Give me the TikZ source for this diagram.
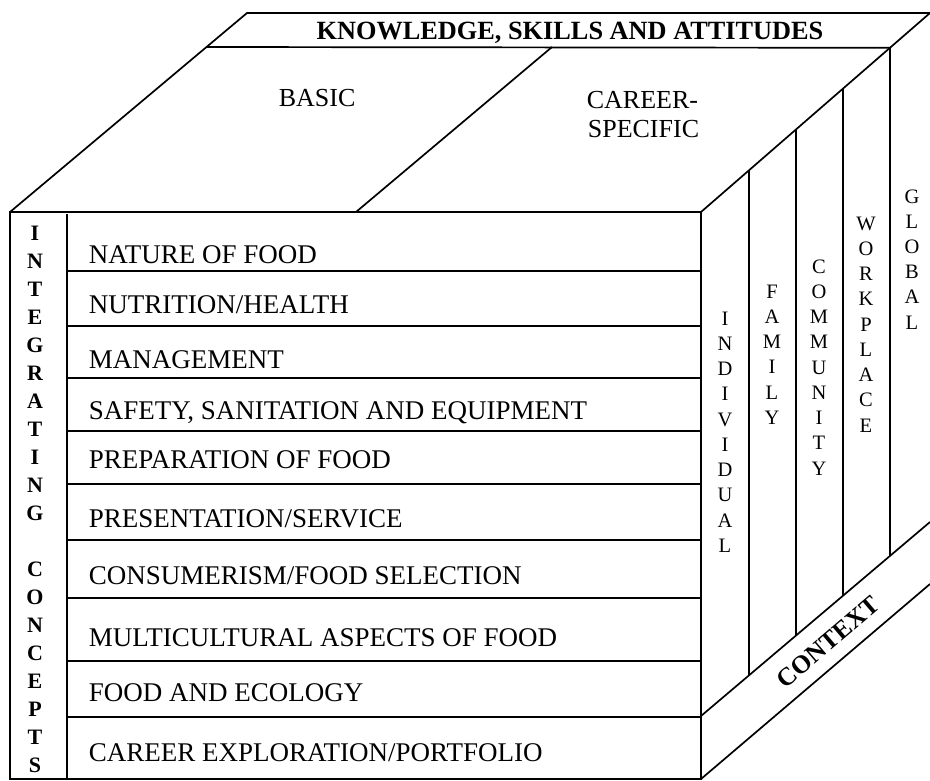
\documentclass[tikz,border=0pt]{standalone}
\usepackage{fontspec}
\setmainfont{Liberation Serif}
\begin{document}
\begin{tikzpicture}[x=1pt,y=-1pt,line width=1.7pt,line join=miter,
  rowlbl/.style={inner sep=0pt,anchor=base west,font=\fontsize{27}{30}\selectfont},
  toplbl/.style={inner sep=0pt,anchor=base west,font=\fontsize{26}{30}\selectfont},
  titlelbl/.style={inner sep=0pt,anchor=base,font=\bfseries\fontsize{26.3}{30}\selectfont},
  icl/.style={inner sep=0pt,anchor=base,font=\bfseries\fontsize{22}{26}\selectfont},
  ctxl/.style={inner sep=0pt,anchor=base,font=\fontsize{20.5}{24}\selectfont},
  ctxword/.style={inner sep=0pt,font=\bfseries\fontsize{25.5}{28}\selectfont,rotate=40.4}]
\useasboundingbox (0,0) rectangle (930,780);

% front face
\draw (10,212) rectangle (701,779);
\draw (67,214) -- (67,779);
\foreach \y in {271,326,378,431,484,540,598,661,717}
  \draw (67,\y) -- (701,\y);

% top face
\draw (10,212) -- (247,13) -- (930,13);
\draw (207,47) -- (890,47.8);
\draw (701,212) -- (930,13);
\draw (356,212) -- (552,47);

% right face columns
\draw (749,170.3) -- (749,675.3);
\draw (796,129.4) -- (796,635.5);
\draw (843,88.6) -- (843,595.7);
\draw (890,47.8) -- (890,555.9);

% context band
\draw (701,716) -- (930,522);
\draw (701,779) -- (930,584);

% texts
\node[titlelbl] (title) at (570,39) {KNOWLEDGE, SKILLS AND ATTITUDES};
\node[toplbl] (basic) at (278,106) {BASIC};
\node[toplbl] (career1) at (586,108) {CAREER-};
\node[toplbl] (career2) at (587,137) {SPECIFIC};

\node[rowlbl] (r1) at (88,263) {NATURE OF FOOD};
\node[rowlbl] (r2) at (88,313) {NUTRITION/HEALTH};
\node[rowlbl] (r3) at (88,368) {MANAGEMENT};
\node[rowlbl] (r4) at (88,419) {SAFETY, SANITATION AND EQUIPMENT};
\node[rowlbl] (r5) at (88,468) {PREPARATION OF FOOD};
\node[rowlbl] (r6) at (88,527) {PRESENTATION/SERVICE};
\node[rowlbl] (r7) at (88,584) {CONSUMERISM/FOOD SELECTION};
\node[rowlbl] (r8) at (88,646) {MULTICULTURAL ASPECTS OF FOOD};
\node[rowlbl] (r9) at (88,701) {FOOD AND ECOLOGY};
\node[rowlbl] (r10) at (88,761) {CAREER EXPLORATION/PORTFOLIO};

\foreach \l [count=\i from 0] in {I,N,T,E,G,R,A,T,I,N,G,{},C,O,N,C,E,P,T,S}
  \node[icl] (ic\i) at (35,240+28.05*\i) {\l};

\foreach \l [count=\i from 0] in {I,N,D,I,V,I,D,U,A,L}
  \node[ctxl] (ind\i) at (725,325+25.25*\i) {\l};
\foreach \l [count=\i from 0] in {F,A,M,I,L,Y}
  \node[ctxl] (fam\i) at (772,298+25.25*\i) {\l};
\foreach \l [count=\i from 0] in {C,O,M,M,U,N,I,T,Y}
  \node[ctxl] (com\i) at (819,273+25.25*\i) {\l};
\foreach \l [count=\i from 0] in {W,O,R,K,P,L,A,C,E}
  \node[ctxl] (wrk\i) at (866,230+25.25*\i) {\l};
\foreach \l [count=\i from 0] in {G,L,O,B,A,L}
  \node[ctxl] (glb\i) at (912,203+25.2*\i) {\l};

\node[ctxword] (context) at (828,642) {CONTEXT};
\end{tikzpicture}
\end{document}
